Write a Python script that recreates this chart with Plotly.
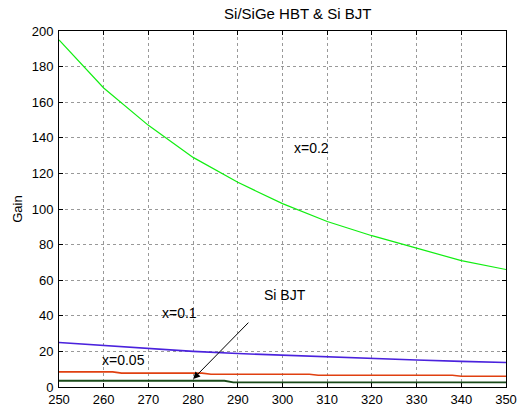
import plotly.graph_objects as go

temp = [250, 260, 270, 280, 290, 300, 310, 320, 330, 340, 350]
gain_x02 = [195, 168, 147, 129, 115, 103, 93, 85, 78, 71, 66]
gain_x01 = [25, 23.2, 21.5, 20, 18.8, 17.8, 16.8, 16, 15.2, 14.4, 13.8]
temp_x005 = [250, 262, 264, 282, 284, 306, 308, 338, 340, 350]
gain_x005 = [8.5, 8.5, 7.8, 7.8, 7.2, 7.2, 6.6, 6.6, 6.0, 6.0]
temp_bjt = [250, 287, 289, 350]
gain_bjt = [3.5, 3.5, 2.6, 2.6]

fig = go.Figure()
fig.add_trace(go.Scatter(x=temp, y=gain_x02, mode="lines",
                         line=dict(color="#11ee11", width=1.2), showlegend=False))
fig.add_trace(go.Scatter(x=temp, y=gain_x01, mode="lines",
                         line=dict(color="#4a22dd", width=1.6), showlegend=False))
fig.add_trace(go.Scatter(x=temp_x005, y=gain_x005, mode="lines",
                         line=dict(color="#e04010", width=1.6), showlegend=False))
fig.add_trace(go.Scatter(x=temp_bjt, y=gain_bjt, mode="lines",
                         line=dict(color="#1a4a1a", width=1.8), showlegend=False))

fam = "Arial, Liberation Sans, sans-serif"
tick = dict(family=fam, size=13, color="black")
txt = dict(family=fam, size=14, color="black")
fig.add_annotation(x=306.5, y=134, text="x=0.2", showarrow=False, font=txt)
fig.add_annotation(x=277, y=41.5, text="x=0.1", showarrow=False, font=txt)
fig.add_annotation(x=264.5, y=15, text="x=0.05", showarrow=False, font=txt)
fig.add_annotation(x=300.5, y=51.5, text="Si BJT", showarrow=False, font=txt)
fig.add_annotation(x=280, y=4.5, ax=292.7, ay=37, axref="x", ayref="y",
                   xref="x", yref="y", text="", showarrow=True,
                   arrowhead=2, arrowsize=1.4, arrowwidth=1, arrowcolor="black")

axis_common = dict(showline=True, linecolor="black", linewidth=1, mirror="ticks",
                   ticks="inside", ticklen=4, tickcolor="black",
                   showgrid=True, gridcolor="#999999", griddash="dot", gridwidth=1,
                   zeroline=False, tickfont=tick, automargin=False)
fig.update_xaxes(range=[250, 350], dtick=10, tick0=250, ticklabelstandoff=0, **axis_common)
fig.update_yaxes(range=[0, 200], dtick=20, tick0=0, ticklabelstandoff=2,
                 title=dict(text="Gain", font=tick, standoff=6), **axis_common)

fig.update_layout(
    width=529, height=406,
    margin=dict(l=59, r=23, t=31, b=19),
    paper_bgcolor="white", plot_bgcolor="white",
    title=dict(text="Si/SiGe HBT & Si BJT", x=(59 + 506) / 2 / 529, xanchor="center",
               xref="paper", y=1 - 14 / 406, yanchor="middle",
               font=dict(family=fam, size=15, color="black")),
    font=tick,
)
fig.write_html("out.html")
